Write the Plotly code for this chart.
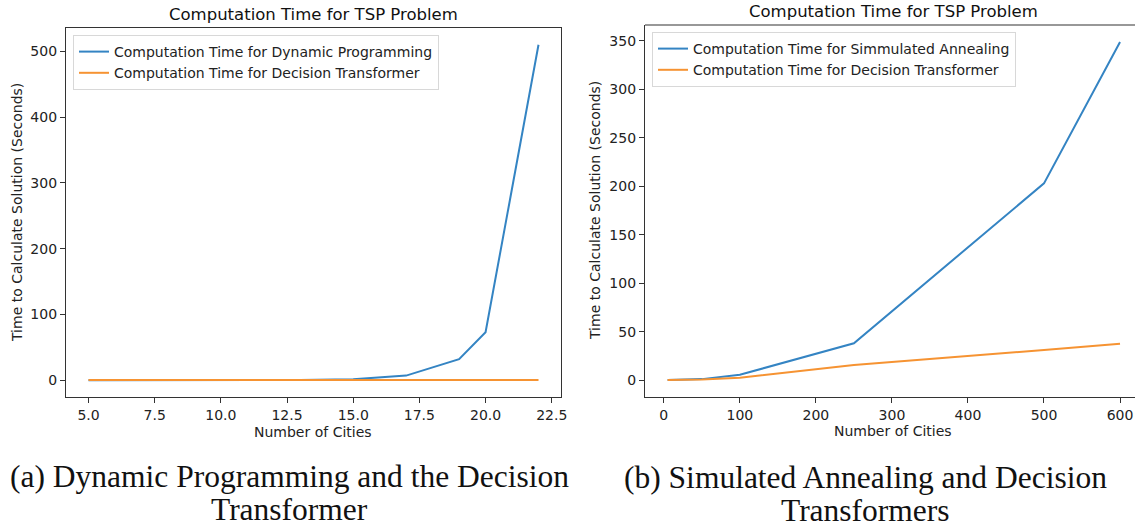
import plotly.graph_objects as go

W, H = 1135, 527

# Left panel data (Dynamic Programming vs Decision Transformer)
dp_cities = [5, 8, 10, 12, 13, 15, 17, 19, 20, 22]
dp_time = [0.0, 0.0, 0.05, 0.2, 0.5, 1.5, 7, 32, 73, 510]
dt_left_cities = [5, 8, 10, 12, 13, 15, 17, 19, 20, 22]
dt_left_time = [0.3, 0.3, 0.3, 0.3, 0.3, 0.3, 0.3, 0.3, 0.3, 0.3]

# Right panel data (Simulated Annealing vs Decision Transformer)
sa_cities = [5, 50, 100, 250, 500, 600]
sa_time = [0.0, 1.0, 5.5, 38, 203, 349]
dt_right_cities = [5, 50, 100, 250, 500, 600]
dt_right_time = [0.0, 0.5, 2.5, 15.5, 31, 37.5]

title_text = "Computation Time for TSP Problem"
xlabel = "Number of Cities"
ylabel = "Time to Calculate Solution (Seconds)"
caption_a = ["(a) Dynamic Programming and the Decision", "Transformer"]
caption_b = ["(b) Simulated Annealing and Decision", "Transformers"]

BLUE = "#3484c3"
ORANGE = "#f69332"
AXC = "#333333"
SANS = "DejaVu Sans"
SERIF = "Liberation Serif"


def px_x(p):
    return p / W


def px_y(p):
    return 1 - p / H


fig = go.Figure()
fig.add_trace(go.Scatter(x=dp_cities, y=dp_time, mode="lines", line=dict(color=BLUE, width=2),
                         name="Computation Time for Dynamic Programming", xaxis="x", yaxis="y", legend="legend"))
fig.add_trace(go.Scatter(x=dt_left_cities, y=dt_left_time, mode="lines", line=dict(color=ORANGE, width=2),
                         name="Computation Time for Decision Transformer", xaxis="x", yaxis="y", legend="legend"))
fig.add_trace(go.Scatter(x=sa_cities, y=sa_time, mode="lines", line=dict(color=BLUE, width=2),
                         name="Computation Time for Simmulated Annealing", xaxis="x2", yaxis="y2", legend="legend2"))
fig.add_trace(go.Scatter(x=dt_right_cities, y=dt_right_time, mode="lines", line=dict(color=ORANGE, width=2),
                         name="Computation Time for Decision Transformer", xaxis="x2", yaxis="y2", legend="legend2"))

axis_common = dict(showgrid=False, zeroline=False, showline=True, linecolor=AXC, linewidth=1.2,
                   ticks="outside", ticklen=5, tickwidth=1, tickcolor=AXC, automargin=False,
                   tickfont=dict(family=SANS, size=14, color="#222"))

fig.update_layout(
    width=W, height=H, margin=dict(l=0, r=0, t=0, b=0, autoexpand=False),
    paper_bgcolor="white", plot_bgcolor="white",
    showlegend=True,
    xaxis=dict(domain=[px_x(66), px_x(561)], range=[4.15, 22.85], anchor="y",
               tickvals=[5, 7.5, 10, 12.5, 15, 17.5, 20, 22.5],
               ticktext=["5.0", "7.5", "10.0", "12.5", "15.0", "17.5", "20.0", "22.5"],
               mirror=True, **axis_common),
    yaxis=dict(domain=[px_y(397), px_y(28)], range=[-25.5, 535.5], anchor="x",
               tickvals=[0, 100, 200, 300, 400, 500], mirror=True, **axis_common),
    xaxis2=dict(domain=[px_x(645), 1.0], range=[-24.75, 600 + 15 / 0.7617], anchor="y2",
                tickvals=[0, 100, 200, 300, 400, 500, 600], mirror=False, **axis_common),
    yaxis2=dict(domain=[px_y(397), px_y(25)], range=[-17.45, 366.45], anchor="x2",
                tickvals=[0, 50, 100, 150, 200, 250, 300, 350], mirror=False, **axis_common),
    legend=dict(x=px_x(73), y=px_y(35), xanchor="left", yanchor="top",
                bgcolor="rgba(255,255,255,0.8)", bordercolor="#d8d8d8", borderwidth=1,
                font=dict(family=SANS, size=14, color="#222"), tracegroupgap=0, itemwidth=30),
    legend2=dict(x=px_x(652), y=px_y(32), xanchor="left", yanchor="top",
                 bgcolor="rgba(255,255,255,0.8)", bordercolor="#d8d8d8", borderwidth=1,
                 font=dict(family=SANS, size=14, color="#222"), tracegroupgap=0, itemwidth=30),
)

# top border for right panel (right edge is cut off in reference)
fig.add_shape(type="line", xref="x2 domain", yref="y2 domain", x0=0, x1=1, y0=1, y1=1,
              line=dict(color=AXC, width=1.2))


def note(text, x, y, size, family=SANS, angle=0, color="#222"):
    return dict(text=text, x=px_x(x), y=px_y(y), xref="paper", yref="paper",
                xanchor="center", yanchor="middle", showarrow=False, align="center",
                textangle=angle, font=dict(family=family, size=size, color=color))


ann = [
    note(title_text, 313, 14, 16.5, color="#111"),
    note(title_text, 893, 11, 16.5, color="#111"),
    note(xlabel, 313, 432, 14),
    note(xlabel, 893, 431, 14),
    note(ylabel, 17, 213, 14, angle=-90),
    note(ylabel, 595, 211, 14, angle=-90),
    note(caption_a[0], 289, 476, 31.5, family=SERIF, color="#111"),
    note(caption_a[1], 289, 509, 31.5, family=SERIF, color="#111"),
    note(caption_b[0], 865, 477, 31.5, family=SERIF, color="#111"),
    note(caption_b[1], 865, 510, 31.5, family=SERIF, color="#111"),
]
fig.update_layout(annotations=ann)

fig.write_html("out.html", config={"displayModeBar": False},
               post_script="document.body.style.margin='0';")
